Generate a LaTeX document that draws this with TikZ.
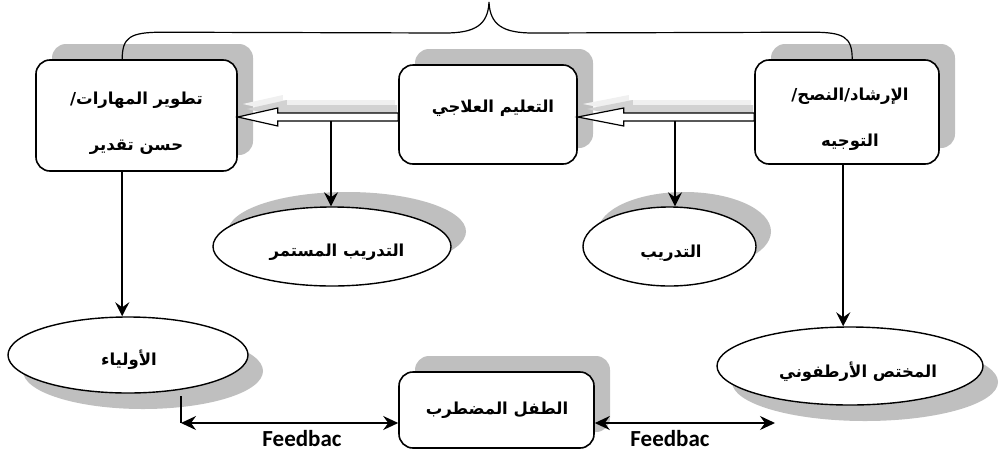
\documentclass[tikz,border=0pt]{standalone}
\usepackage{fontspec}
\usetikzlibrary{shapes.geometric,shadows,arrows.meta,calc}
\newfontfamily\arabicfont[Script=Arabic]{DejaVu Sans}
\newfontfamily\fbfont{Carlito}
\TeXXeTstate=1
\begin{document}
\begin{tikzpicture}[x=1pt,y=-1pt,
  shadowcol/.style={fill=gray!50, opacity=1},
  arab/.style={font=\arabicfont\bfseries\fontsize{16.5}{46}\selectfont, align=center, inner sep=0pt},
  box/.style={draw, line width=1.6pt, rounded corners=14pt, fill=white},
  boxshadowup/.style={box, drop shadow={shadow xshift=16pt, shadow yshift=16pt, shadowcol}},
  ovalup/.style={ellipse, draw, line width=1.4pt, fill=white, inner sep=0pt, drop shadow={shadow xshift=15pt, shadow yshift=15pt, shadowcol}},
  ovaldown/.style={ellipse, draw, line width=1.4pt, fill=white, inner sep=0pt, drop shadow={shadow xshift=15pt, shadow yshift=-16pt, shadowcol}},
  conn/.style={line width=1.5pt, -{Stealth[length=14pt,width=14pt,inset=5pt]}},
  bidir/.style={line width=1.5pt, {Stealth[length=15pt,width=14pt,inset=5pt]}-{Stealth[length=15pt,width=14pt,inset=5pt]}},
  dblarrow/.style={draw, line width=1.2pt, fill=white, line join=miter},
  fb/.style={font=\fbfont\bfseries\fontsize{23}{23}\selectfont, inner sep=0pt},
  brace/.style={line width=1.2pt}
]
\useasboundingbox (0,0) rectangle (1000,453);

% boxes
\node[boxshadowup, minimum width=201pt, minimum height=111pt] (A) at (136.5,115.5) {};
\node[boxshadowup, minimum width=178pt, minimum height=99pt] (B) at (488,114.5) {};
\node[boxshadowup, minimum width=184pt, minimum height=104pt] (C) at (847,112) {};
\node[boxshadowup, minimum width=195pt, minimum height=76pt] (D) at (496.5,410) {};

% ellipses
\node[ovalup, minimum width=238pt, minimum height=79pt] (E1) at (332,246.5) {};
\node[ovalup, minimum width=173pt, minimum height=79pt] (E2) at (669.5,246.5) {};
\node[ovaldown, minimum width=240pt, minimum height=76pt] (E3) at (128,355) {};
\node[ovaldown, minimum width=266pt, minimum height=78pt] (E4) at (850,366) {};

% texts
\node[arab] (At) at (136.5,123) {\beginR تطوير المهارات/\endR\\\beginR حسن تقدير\endR};
\node[arab] (Bt) at (493,108) {\beginR التعليم العلاجي\endR};
\node[arab] (Ct) at (850,119.5) {\beginR الإرشاد/النصح/\endR\\\beginR التوجيه\endR};
\node[arab] (Dt) at (497,410) {\beginR الطفل المضطرب\endR};
\node[arab] (E1t) at (337,252) {\beginR التدريب المستمر\endR};
\node[arab] (E2t) at (671,253) {\beginR التدريب\endR};
\node[arab] (E3t) at (129,360) {\beginR الأولياء\endR};
\node[arab] (E4t) at (858,372) {\beginR المختص الأرطفوني\endR};

% brace over the top boxes
\coordinate (bl) at ($(A.north west)+(87,0)$);
\coordinate (br) at ($(C.north west)+(98,0)$);
\coordinate (tip) at (489,2);
\draw[brace] (bl) .. controls ($(bl)+(0,-22)$) and ($(bl)+(8,-27)$) .. ($(bl)+(40,-27)$)
  -- (445,33) .. controls (475,33) and (488,25) .. (tip)
  .. controls (490,25) and (503,33) .. (533,33)
  -- ($(br)+(-40,-27)$) .. controls ($(br)+(-8,-27)$) and ($(br)+(0,-22)$) .. (br);

% open double-line arrows with soft shadow
\begin{scope}[transform canvas={shift={(5pt,13pt)}}]
  \fill[gray!12] ($(B.east)+(0,2.5)$) coordinate (t1s) -- ++(46,-9) -- ++(0,5) -- ($(C.west)+(-8,1)$) -- ++(0,8) -- ($(t1s)+(46,4)$) -- ++(0,5) -- cycle;
  \fill[gray!12] ($(A.east)+(0,1.5)$) coordinate (t2s) -- ++(40,-9) -- ++(0,5) -- ($(B.west)+(-8,-1.5)$) -- ++(0,8) -- ($(t2s)+(40,4)$) -- ++(0,5) -- cycle;
\end{scope}
\begin{scope}[transform canvas={shift={(9pt,8pt)}}]
  \fill[gray!35] ($(B.east)+(0,2.5)$) coordinate (t1s) -- ++(46,-9) -- ++(0,5) -- ($(C.west)+(-10,1)$) -- ++(0,8) -- ($(t1s)+(46,4)$) -- ++(0,5) -- cycle;
  \fill[gray!35] ($(A.east)+(0,1.5)$) coordinate (t2s) -- ++(40,-9) -- ++(0,5) -- ($(B.west)+(-10,-1.5)$) -- ++(0,8) -- ($(t2s)+(40,4)$) -- ++(0,5) -- cycle;
\end{scope}
\draw[dblarrow] ($(B.east)+(0,2.5)$) coordinate (t1) -- ++(46,-9) -- ++(0,5) -- ($(C.west)+(0,1)$) -- ++(0,8) -- ($(t1)+(46,4)$) -- ++(0,5) -- cycle;
\draw[dblarrow] ($(A.east)+(0,1.5)$) coordinate (t2) -- ++(40,-9) -- ++(0,5) -- ($(B.west)+(0,-1.5)$) -- ++(0,8) -- ($(t2)+(40,4)$) -- ++(0,5) -- cycle;

% vertical arrows
\coordinate (s1) at (331,121);
\coordinate (s2) at (675,121);
\draw[conn] (s1) -- (s1 |- E1.north);
\draw[conn] (s2) -- (s2 |- E2.north);
\coordinate (a1) at ($(A.south west)+(87,0)$);
\draw[conn] (a1) -- (a1 |- E3.north);
\coordinate (c1) at ($(C.south west)+(89,0)$);
\draw[conn] (c1) -- (c1 |- E4.north);

% feedback arrows
\coordinate (fy) at (0,423);
\coordinate (p1) at (181,396);
\coordinate (q1) at (775,423);
\draw[line width=1.2pt] (p1) -- (p1 |- fy);
\draw[bidir] (p1 |- fy) -- (D.west |- fy);
\draw[bidir] (D.east |- fy) -- (q1);
\node[fb] (f1) at (302,439) {Feedbac};
\node[fb] (f2) at (670,439) {Feedbac};
\end{tikzpicture}
\end{document}
